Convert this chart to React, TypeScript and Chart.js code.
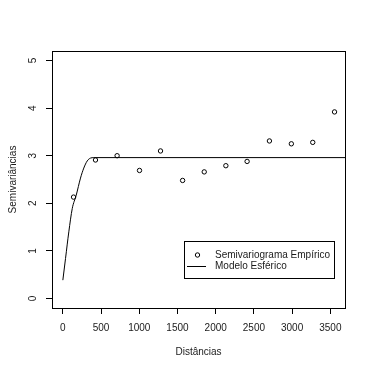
import React, { useEffect, useRef } from "react";
import { Chart, registerables } from "chart.js";

Chart.register(...registerables);

// Empirical semivariogram (distance, semivariance)
const distances = [140, 427, 710, 1003, 1278, 1567, 1850, 2133, 2411, 2703, 2990, 3270, 3555];
const semivariances = [2.13, 2.91, 3.0, 2.69, 3.1, 2.48, 2.66, 2.79, 2.88, 3.31, 3.25, 3.28, 3.92];

// Fitted spherical model
const modelDist = [0, 35, 78, 123, 175, 231, 274, 319, 362, 405, 3750];
const modelGamma = [0.385, 0.84, 1.4, 1.89, 2.17, 2.53, 2.74, 2.89, 2.95, 2.96, 2.96];

const xTicks = [0, 500, 1000, 1500, 2000, 2500, 3000, 3500];
const yTicks = [0, 1, 2, 3, 4, 5];

const xTitle = "Distâncias";
const yTitle = "Semivariâncias";
const legendLabels = ["Semivariograma Empírico", "Modelo Esférico"];

const FONT = "'Liberation Sans', Arial, sans-serif";
const TXT = "#1a1a1a";

export default function App() {
  const ref = useRef<HTMLCanvasElement>(null);

  useEffect(() => {
    document.body.style.margin = "0";
    const canvas = ref.current!;
    const boxPlugin = {
      id: "rbox",
      afterDraw(chart: any) {
        const { ctx, chartArea: a } = chart;
        ctx.save();
        ctx.strokeStyle = "#000";
        ctx.lineWidth = 1;
        ctx.strokeRect(Math.round(a.left) + 0.5, Math.round(a.top) + 0.5, Math.round(a.right - a.left), Math.round(a.bottom - a.top));
        // legend
        const lx = 184, ly = 241, lw = 150, lh = 37;
        ctx.fillStyle = "#fff";
        ctx.fillRect(lx, ly, lw, lh);
        ctx.strokeRect(lx + 0.5, ly + 0.5, lw, lh);
        ctx.beginPath();
        ctx.arc(197.5, 255, 2.2, 0, Math.PI * 2);
        ctx.stroke();
        ctx.beginPath();
        ctx.moveTo(187, 266.5);
        ctx.lineTo(206, 266.5);
        ctx.stroke();
        ctx.fillStyle = TXT;
        ctx.font = `10px ${FONT}`;
        ctx.textBaseline = "middle";
        ctx.textAlign = "left";
        ctx.fillText(legendLabels[0], 215, 255);
        ctx.fillText(legendLabels[1], 215, 266);
        ctx.restore();
      },
    };

    const chart = new Chart(canvas, {
      type: "scatter",
      data: {
        datasets: [
          {
            type: "line",
            label: legendLabels[1],
            data: modelDist.map((d, i) => ({ x: d, y: modelGamma[i] })),
            borderColor: "#000",
            borderWidth: 1,
            pointRadius: 0,
            cubicInterpolationMode: "monotone",
            fill: false,
          } as any,
          {
            label: legendLabels[0],
            data: distances.map((d, i) => ({ x: d, y: semivariances[i] })),
            borderColor: "#000",
            backgroundColor: "rgba(0,0,0,0)",
            borderWidth: 1,
            pointRadius: 2.2,
          },
        ],
      },
      options: {
        responsive: false,
        animation: false,
        events: [],
        layout: { padding: { left: 0, top: 51, right: 38, bottom: 0 } },
        plugins: { legend: { display: false }, tooltip: { enabled: false } },
        scales: {
          x: {
            type: "linear",
            min: -142,
            max: 3692,
            afterBuildTicks: (s: any) => {
              s.ticks = xTicks.map((v) => ({ value: v }));
            },
            afterFit: (s: any) => {
              s.height = 75;
            },
            border: { display: false },
            grid: { drawOnChartArea: false, drawTicks: true, tickLength: 6, color: "#000", lineWidth: 1 },
            ticks: {
              color: TXT,
              font: { size: 10, family: FONT },
              padding: 8,
              maxRotation: 0,
              autoSkip: false,
              callback: (v: any) => String(v),
            },
            title: { display: true, text: xTitle, color: TXT, font: { size: 10, family: FONT }, padding: { top: 0, bottom: 25 } },
          },
          y: {
            type: "linear",
            min: -0.2,
            max: 5.2,
            afterBuildTicks: (s: any) => {
              s.ticks = yTicks.map((v) => ({ value: v }));
            },
            afterFit: (s: any) => {
              s.width = 52;
            },
            border: { display: false },
            grid: { drawOnChartArea: false, drawTicks: true, tickLength: 6, color: "#000", lineWidth: 1 },
            ticks: {
              color: TXT,
              font: { size: 10, family: FONT },
              padding: 10,
              minRotation: 90,
              maxRotation: 90,
              crossAlign: "center",
              autoSkip: false,
              callback: (v: any) => String(v),
            },
            title: { display: true, text: yTitle, color: TXT, font: { size: 10, family: FONT }, padding: { top: 7, bottom: 0 } },
          },
        },
      },
      plugins: [boxPlugin],
    });
    return () => chart.destroy();
  }, []);

  return <canvas ref={ref} width={383} height={383} style={{ display: "block", width: 383, height: 383 }} />;
}
